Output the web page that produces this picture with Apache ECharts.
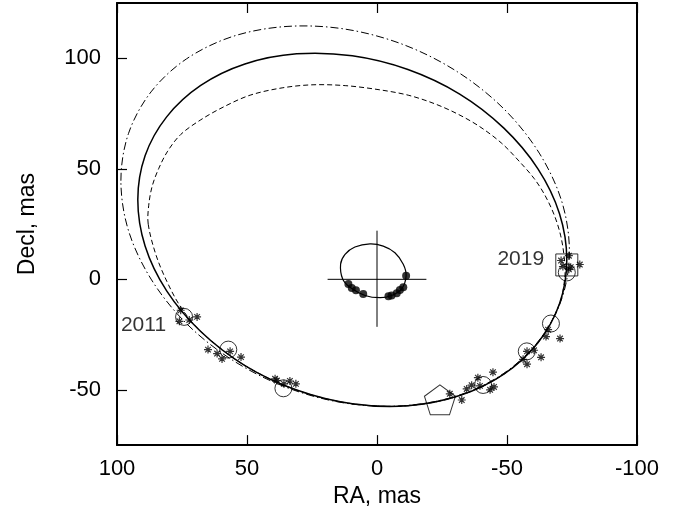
<!DOCTYPE html>
<html>
<head>
<meta charset="utf-8">
<script src="https://cdn.jsdelivr.net/npm/echarts@6/dist/echarts.min.js"></script>
<style>
  html, body { margin: 0; padding: 0; background: #fff; }
  #chart { width: 686px; height: 513px; }
</style>
</head>
<body>
<div id="chart"></div>
<script>
// Axis ticks (mas)
const raTicks = [100, 50, 0, -50, -100];
const declTicks = [-50, 0, 50, 100];

// Best-fit orbit (solid), closed loop [RA, Decl]
const orbitBest = [
  [92.0, 36.0], [89.2, 55.9], [80.9, 73.5], [67.8, 87.7], [50.8, 97.4], [30.9, 102.0],
  [9.5, 101.1], [-11.9, 94.9], [-31.8, 83.8], [-48.8, 68.4], [-61.9, 50.0], [-70.2, 29.7],
  [-73.0, 8.8], [-70.2, -11.1], [-61.9, -28.7], [-48.8, -42.9], [-31.8, -52.6], [-11.9, -57.2],
  [9.5, -56.3], [30.9, -50.1], [50.8, -39.0], [67.8, -23.6], [80.9, -5.2], [89.2, 15.1]
];

// Alternative orbit, smaller (dashed), closed loop
const orbitInner = [
  [88, 25], [87.8, 33.5], [86.5, 42], [84, 50], [80.5, 58], [75.5, 65.5], [68, 72],
  [59, 78], [48.8, 83.3], [36.5, 86.6], [24.6, 88], [12, 87.6], [-1.2, 85.7], [-12, 83.3],
  [-22, 79.5], [-31, 74.8], [-39.6, 69], [-48, 61.5], [-55, 53], [-60.5, 45.5], [-64.6, 38],
  [-68.2, 29], [-70.6, 20], [-71.9, 11], [-72.3, 2], [-70.2, -11.1], [-61.9, -28.7],
  [-48.8, -42.9], [-31.8, -52.6], [-11.9, -57.2], [9.5, -56.3], [30.9, -50.1], [50.8, -39.0],
  [67.8, -23.6], [75.5, -12.5], [80.8, -1], [85, 11]
];

// Alternative orbit, larger (dash-dot), closed loop
const orbitOuter = [
  [98.5, 44.6], [95.6, 65.9], [86.9, 84.8], [73.3, 99.7], [55.4, 109.9], [34.6, 114.4],
  [12.3, 113.2], [-10.1, 106.2], [-30.9, 93.9], [-48.8, 77.1], [-62.4, 57.1], [-71.1, 35.1],
  [-74.0, 12.6], [-71.1, -8.7], [-62.4, -27.5], [-48.8, -42.5], [-30.9, -52.7], [-10.1, -57.2],
  [12.3, -56.0], [34.6, -49.0], [55.4, -36.7], [73.3, -20.0], [86.9, 0.1], [95.6, 22.1]
];

// Individual measurements
const measurements = [
  [75.5, -14], [76, -19], [72.2, -18.4], [69.2, -17],
  [65, -31.8], [61.5, -33.6], [59.6, -36], [56.5, -32.6], [52.3, -35.2],
  [39.2, -45], [38.5, -45.8], [35.8, -47.3], [33.5, -46], [31.2, -47.3],
  [-28, -51.8], [-32.6, -54.6], [-34.5, -49.6], [-36.4, -47.9], [-38.8, -44.5],
  [-44.6, -42], [-45, -48.7], [-43.5, -50], [-39.6, -48.2],
  [-56.2, -36.2], [-57.7, -38.4], [-57.7, -32.6], [-60.4, -32.1], [-63.1, -35.3],
  [-65, -25.9], [-65.8, -22.8], [-70.4, -26.8],
  [-70.8, 8.5], [-73.8, 10.7], [-71.5, 5.8], [-73.8, 4.5], [-78, 6.7], [-74.5, 5.5]
];

// Predicted positions at the observing epochs
const epochPositions = [
  [74.2, -17], [57.2, -31.8], [36, -49.3], [-40.8, -47.8], [-57.6, -32.6], [-66.9, -20], [-73, 3.1]
];
const squarePosition = [[-73, 6.5]];
const pentagonPosition = [[-24.2, -54.5]];

// Photocentre orbit around the centre of mass, closed loop
const photoOrbit = [
  [14, 6.8], [12.3, 11.3], [8.5, 14.6], [2.7, 16], [-2.4, 15], [-6.9, 12], [-10.1, 6.8],
  [-11.2, 1.6], [-9.5, -4.3], [-5.6, -7.3], [-1.2, -8.3], [4.6, -7.3], [10.4, -3.6],
  [13.2, 0.1]
];
const photoPoints = [
  [-11.2, 1.6], [-10.1, -3.6], [-8.8, -4.8], [-7.6, -6.3], [-5.6, -7.3], [-4.4, -7.7],
  [11, -2.1], [9.7, -3.9], [8.1, -5], [5.3, -6.6]
];
const crossH = [[19, 0], [-19, 0]];
const crossV = [[0, 22], [0, -21.5]];

const epochLabels = ['2011', '2019'];
const epochLabelPos = [[89.8, -20.9], [-55.3, 9.3]];

const FONT = 'Liberation Sans, Arial, Helvetica, sans-serif';
const asterisk = 'path://M5,0L5,10M0,5L10,5M1.5,1.5L8.5,8.5M1.5,8.5L8.5,1.5';
const pentagon = 'path://M0,-1L0.951,-0.309L0.588,0.809L-0.588,0.809L-0.951,-0.309Z';

const chart = echarts.init(document.getElementById('chart'), null, { renderer: 'canvas' });

// Closed smooth curve through the given orbit points, placed with the cartesian axes
const orbitSeries = (points, dash, width) => ({
  type: 'custom', silent: true, clip: true,
  data: [points[0]],
  renderItem: (params, api) => ({
    type: 'polygon',
    shape: { points: points.map(p => api.coord(p)), smooth: 0.33 },
    style: { fill: 'none', stroke: '#000', lineWidth: width, lineDash: dash }
  })
});

const tickStyle = (values) => ({
  show: true, inside: true, length: 10, lineStyle: { color: '#000', width: 1.2 }, customValues: values
});
const frameLine = { show: true, onZero: false, lineStyle: { color: '#000', width: 2 } };

chart.setOption({
  animation: false,
  backgroundColor: '#fff',
  textStyle: { fontFamily: FONT },
  grid: { left: 117, right: 49, top: 3, bottom: 65, show: false },
  xAxis: [
    {
      type: 'value', min: -100, max: 100, interval: 50, inverse: true, position: 'bottom',
      name: 'RA, mas', nameLocation: 'middle', nameGap: 38,
      nameTextStyle: { color: '#000', fontSize: 23, fontFamily: FONT },
      axisLine: frameLine,
      axisTick: tickStyle(raTicks),
      axisLabel: { show: true, margin: 13, color: '#000', fontSize: 22, fontFamily: FONT, customValues: raTicks },
      splitLine: { show: false }
    },
    {
      type: 'value', min: -100, max: 100, interval: 50, inverse: true, position: 'top',
      axisLine: frameLine,
      axisTick: tickStyle(raTicks),
      axisLabel: { show: false },
      splitLine: { show: false }
    }
  ],
  yAxis: [
    {
      type: 'value', min: -75, max: 125, position: 'left',
      name: 'Decl, mas', nameLocation: 'middle', nameGap: 78, nameRotate: 90,
      nameTextStyle: { color: '#000', fontSize: 23, fontFamily: FONT },
      axisLine: frameLine,
      axisTick: tickStyle(declTicks),
      axisLabel: { show: true, margin: 16, color: '#000', fontSize: 22, fontFamily: FONT, customValues: declTicks },
      splitLine: { show: false }
    },
    {
      type: 'value', min: -75, max: 125, position: 'right',
      axisLine: frameLine,
      axisTick: { show: false },
      axisLabel: { show: false },
      splitLine: { show: false }
    }
  ],
  series: [
    orbitSeries(orbitOuter, [8, 3, 1.5, 3], 1),
    orbitSeries(orbitInner, [5, 3], 1),
    orbitSeries(orbitBest, null, 1.5),
    orbitSeries(photoOrbit, null, 1.2),
    { type: 'line', data: crossH, symbol: 'none', silent: true, lineStyle: { color: '#000', width: 1 } },
    { type: 'line', data: crossV, symbol: 'none', silent: true, lineStyle: { color: '#000', width: 1 } },
    {
      type: 'scatter', data: photoPoints, symbol: 'circle', symbolSize: 8, silent: true,
      itemStyle: { color: '#000' }
    },
    {
      type: 'scatter', data: measurements, symbol: asterisk, symbolSize: 8, silent: true,
      itemStyle: { color: 'transparent', borderColor: '#000', borderWidth: 1.2 }
    },
    {
      type: 'scatter', data: epochPositions, symbol: 'circle', symbolSize: 17, silent: true,
      itemStyle: { color: 'transparent', borderColor: '#000', borderWidth: 1 }
    },
    {
      type: 'scatter', data: squarePosition, symbol: 'rect', symbolSize: 22, silent: true,
      itemStyle: { color: 'transparent', borderColor: '#000', borderWidth: 1 }
    },
    {
      type: 'scatter', data: pentagonPosition, symbol: pentagon, symbolSize: [31, 30], silent: true,
      itemStyle: { color: 'transparent', borderColor: '#000', borderWidth: 1 }
    },
    {
      type: 'scatter', silent: true, symbolSize: 1, itemStyle: { color: 'transparent' },
      data: epochLabels.map((t, i) => ({ name: t, value: epochLabelPos[i] })),
      label: { show: true, position: 'inside', formatter: '{b}', color: '#000', fontSize: 21, fontFamily: FONT }
    }
  ]
});
</script>
</body>
</html>
